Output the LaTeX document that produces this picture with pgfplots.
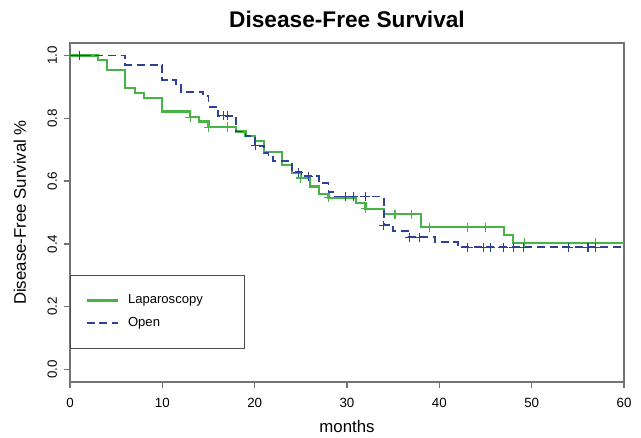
\documentclass[border=0pt]{standalone}
\usepackage{pgfplots}
\pgfplotsset{compat=1.18}
\usepackage{fontspec}
\setmainfont{Liberation Sans}
\definecolor{lapgreen}{RGB}{72,180,72}
\definecolor{openblue}{RGB}{45,65,155}
\begin{document}
\begin{tikzpicture}
\useasboundingbox (-52.5pt,-41.25pt) rectangle (428.25pt,286.5pt);
\begin{axis}[
    width=415.5pt, height=254.25pt, scale only axis,
    xmin=0, xmax=60, ymin=-0.04, ymax=1.04,
    xtick={0,10,20,30,40,50,60},
    ytick={0,0.2,0.4,0.6,0.8,1},
    /pgf/number format/assume math mode=true,
    ticklabel style={font=\fontsize{10}{12}\selectfont},
    xticklabel style={yshift=-4pt},
    yticklabel style={rotate=90, anchor=south, yshift=1.5pt,
        /pgf/number format/fixed, /pgf/number format/fixed zerofill,
        /pgf/number format/precision=1},
    tick align=outside, tick pos=left,
    major tick length=4.75pt,
    axis line style={black!55, line width=1pt},
    tick style={black!55, line width=1pt},
    title={Disease-Free Survival},
    title style={font=\fontsize{17}{20}\selectfont\bfseries, at={(axis description cs:0.5,1)}, anchor=base, yshift=6pt},
    xlabel={months},
    xlabel style={font=\fontsize{12.6}{15}\selectfont, at={(axis description cs:0.5,0)}, anchor=base, yshift=-38pt},
    ylabel={Disease-Free Survival \%},
    ylabel style={font=\fontsize{12.6}{15}\selectfont, at={(axis description cs:0,0.5)}, anchor=base, yshift=33pt},
    legend image code/.code={\draw[#1] (0pt,0pt) -- (23.25pt,0pt);},
    legend style={at={(rel axis cs:0,0.3156)}, anchor=north west,
        draw=black!70, line width=0.9pt,
        font=\fontsize{9.8}{11}\selectfont,
        inner xsep=11.25pt, inner ysep=12.5pt, row sep=4.8pt, column sep=5pt,
        nodes={text width=74pt, align=left}},
    legend cell align=left,
]
% Laparoscopy
\addplot[const plot, lapgreen, line width=1.6pt] coordinates {
(0,1) (3,0.986) (4,0.954) (6,0.896) (7,0.881) (8,0.865) (10,0.822) (13,0.804)
(14,0.79) (15,0.772) (18,0.758) (19,0.745) (20,0.729) (21,0.694) (23,0.65)
(24,0.625) (25,0.61) (26,0.583) (27,0.56) (28,0.547) (31,0.53) (32,0.512)
(34,0.494) (38,0.453) (47,0.429) (48,0.404) (60,0.404)};
\addlegendentry{Laparoscopy}
% Open
\addplot[const plot, openblue, line width=1.4pt, dash pattern=on 6pt off 3.5pt] coordinates {
(0,1) (6,0.971) (10,0.923) (11.5,0.91) (12,0.885) (14.4,0.872) (15,0.836)
(16,0.808) (18,0.758) (19,0.743) (20,0.713) (21,0.689) (21.5,0.676) (22,0.663)
(24,0.628) (25,0.615) (27,0.593) (28,0.565) (28.5,0.551) (34,0.459) (35,0.44)
(36.6,0.421) (39.5,0.405) (42,0.389) (60,0.389)};
\addlegendentry{Open}
% censored
\addplot[only marks, mark=+, mark size=3.5pt, lapgreen, mark options={line width=0.8pt}, forget plot] coordinates {
(13,0.804) (15,0.772) (17.1,0.772) (25,0.61) (28,0.547) (32,0.512) (35.2,0.494)
(37,0.494) (38.9,0.453) (43,0.453) (45,0.453) (49.2,0.404) (56.9,0.404)};
\addplot[only marks, mark=+, mark size=3.5pt, openblue, mark options={line width=0.8pt}, forget plot] coordinates {
(1,1) (16.6,0.808) (17.1,0.808) (20.1,0.713) (24.7,0.628) (25.8,0.615)
(29.8,0.551) (30.7,0.551) (32,0.551) (34,0.459) (36.8,0.421) (37.9,0.421)
(43.1,0.389) (44.8,0.389) (45.5,0.389) (46.9,0.389) (48,0.389) (49.1,0.389)
(54,0.389) (56.1,0.389) (56.9,0.389)};
\end{axis}
\end{tikzpicture}
\end{document}
